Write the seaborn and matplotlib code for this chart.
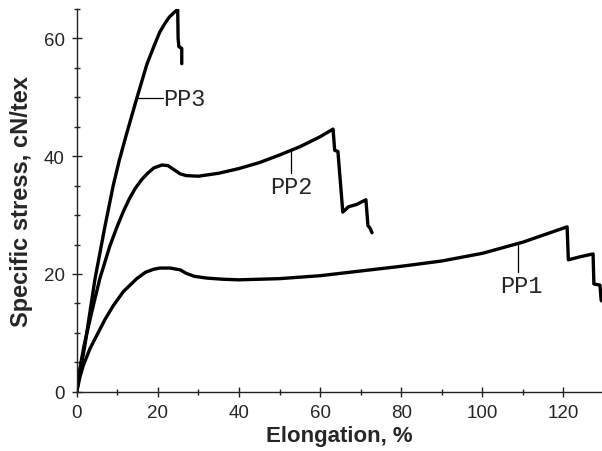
import matplotlib
matplotlib.use("Agg")
import matplotlib.pyplot as plt
import seaborn as sns
import pandas as pd
from matplotlib.ticker import MultipleLocator

# stress-strain curves
pp1_x = [0, 0.8, 1.6, 3.2, 4.9, 7, 9, 11.5, 14.8, 17, 19, 20.5, 23, 25.5, 27, 29, 32, 36, 40,
         50, 60, 70, 80, 90, 100, 110, 120.9, 121.2, 124, 127.3, 127.5, 129, 129.3, 130]
pp1_y = [0, 2.5, 4.4, 7.2, 9.5, 12.3, 14.6, 17.0, 19.2, 20.3, 20.8, 21.0, 21.0, 20.7, 20.1,
         19.6, 19.3, 19.1, 19.0, 19.2, 19.7, 20.5, 21.3, 22.2, 23.5, 25.4, 28.0, 22.4, 22.9,
         23.4, 18.3, 18.1, 15.5, 15.2]

pp2_x = [0, 0.8, 1.8, 3.7, 5.7, 8.2, 10, 11.5, 13, 14.5, 16, 17.5, 19, 21, 22.5, 24, 25.5, 27,
         30, 35, 40, 45, 50, 55, 60, 63.2, 63.6, 64.4, 65.6, 67, 69, 71.3, 71.8, 72.3, 72.8]
pp2_y = [0, 4.0, 7.8, 13.5, 19.2, 24.8, 28.1, 30.6, 32.8, 34.6, 36.0, 37.1, 38.0, 38.5, 38.4,
         37.7, 37.0, 36.7, 36.6, 37.1, 37.9, 38.9, 40.2, 41.6, 43.3, 44.6, 41.0, 40.8, 30.5,
         31.4, 31.8, 32.6, 28.2, 27.8, 27.0]

pp3_x = [0, 2, 4.5, 7, 9, 10.5, 12.3, 14.8, 17.3, 19, 20.5, 21.8, 22.8, 24, 24.9, 25.0, 25.2,
         25.9, 25.9]
pp3_y = [0, 7.8, 19.1, 28.2, 35.0, 39.3, 43.8, 49.8, 55.6, 58.6, 61.1, 62.6, 63.6, 64.4, 64.9,
         60.0, 58.6, 58.3, 55.7]

series_names = ["PP1", "PP2", "PP3"]
xs = [pp1_x, pp2_x, pp3_x]
ys = [pp1_y, pp2_y, pp3_y]

df = pd.concat(
    [pd.DataFrame({"elong": x, "stress": y, "sample": n}) for n, x, y in zip(series_names, xs, ys)],
    ignore_index=True,
)

sns.set_style("white")
plt.rcParams["font.family"] = ["Liberation Sans", "DejaVu Sans"]

fig = plt.figure(figsize=(6.02, 4.52), dpi=100)
ax = fig.add_axes([0.1274, 0.1312, 0.8726, 0.8467])

for name in series_names:
    sns.lineplot(data=df[df["sample"] == name], x="elong", y="stress", sort=False,
                 estimator=None, color="black", linewidth=2.4, ax=ax, legend=False)

ax.set_xlim(0, 129.5)
ax.set_ylim(0, 65)
ax.xaxis.set_major_locator(MultipleLocator(20))
ax.xaxis.set_minor_locator(MultipleLocator(10))
ax.yaxis.set_major_locator(MultipleLocator(20))
ax.yaxis.set_minor_locator(MultipleLocator(5))

for s in ["top", "right"]:
    ax.spines[s].set_visible(False)
for s in ["left", "bottom"]:
    ax.spines[s].set_color("#222222")
    ax.spines[s].set_linewidth(1.0)

ax.tick_params(axis="both", which="major", direction="inout", length=7, width=1,
               color="#222222", labelsize=13.5, pad=5)
ax.tick_params(axis="both", which="minor", direction="inout", length=5, width=1,
               color="#222222")
ax.tick_params(axis="x", which="both", bottom=True)
ax.tick_params(axis="y", which="both", left=True)

ax.set_xlabel("Elongation, %", fontsize=16, fontweight="bold", labelpad=3)
ax.set_ylabel("Specific stress, cN/tex", fontsize=17, fontweight="bold", labelpad=8)

# curve labels with leader lines
mono = {"family": ["Liberation Mono", "DejaVu Sans Mono"], "fontsize": 17}
ax.plot([14.8, 21.2], [49.8, 49.8], color="black", linewidth=0.9)
ax.text(21.4, 49.8, "PP3", va="center", ha="left", **mono)
ax.plot([52.8, 52.8], [41.0, 37.2], color="black", linewidth=0.9)
ax.text(53.0, 36.8, "PP2", va="top", ha="center", **mono)
ax.plot([108.7, 108.7], [25.4, 20.4], color="black", linewidth=0.9)
ax.text(109.5, 20.0, "PP1", va="top", ha="center", **mono)

fig.savefig("out.png", dpi=100)
